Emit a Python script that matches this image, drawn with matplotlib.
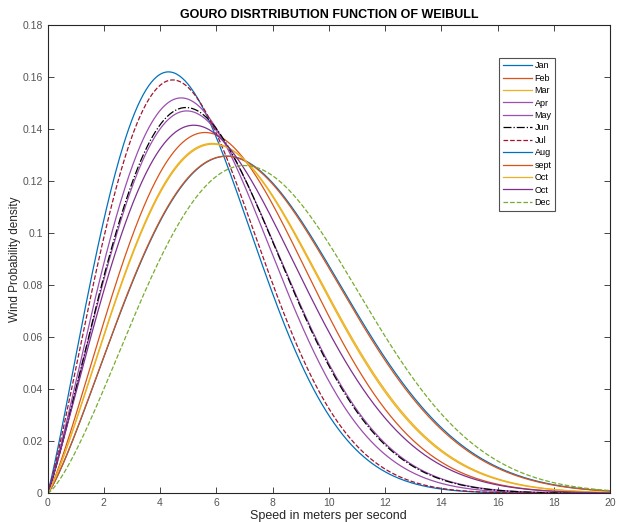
import numpy as np
import matplotlib.pyplot as plt

plt.rcParams['font.family'] = ['Liberation Sans', 'DejaVu Sans']

months = ["Jan", "Feb", "Mar", "Apr", "May", "Jun", "Jul", "Aug", "sept", "Oct", "Oct", "Dec"]
# Weibull-shaped curves: speed at the peak (m/s),
# peak density and shape factor k
mode_speed = [4.30, 5.60, 5.85, 4.75, 4.95, 4.92, 4.45, 6.38, 6.35, 5.88, 5.20, 7.00]
peak_density = [0.162, 0.1387, 0.1345, 0.152, 0.147, 0.1483, 0.1589, 0.1296, 0.1296, 0.1342, 0.1415, 0.126]
shape_k = [2.12, 2.20, 2.20, 2.15, 2.15, 2.15, 2.15, 2.22, 2.22, 2.20, 2.10, 2.35]

colors = ["#0072BD", "#D95319", "#EDB120", "#9B4FB0", "#9B4FB0", "#000000",
          "#A2142F", "#0072BD", "#D95319", "#EDB120", "#7E2F8E", "#77AC30"]
styles = ["-", "-", "-", "-", "-", "-.", "--", "-", "-", "-", "-", "--"]


def weibull_curve(v, m, peak, k):
    # Weibull density shape written around its mode m and peak height
    u = v / m
    return peak * u ** (k - 1) * np.exp(-(k - 1) / k * (u ** k - 1))


def main():
    v = np.linspace(0, 20, 401)
    fig = plt.figure(figsize=(6.17, 5.22), dpi=100)
    ax = fig.add_axes([0.077, 0.055, 0.912, 0.897])

    for i, name in enumerate(months):
        y = weibull_curve(v, mode_speed[i], peak_density[i], shape_k[i])
        ax.plot(v, y, color=colors[i], linestyle=styles[i], linewidth=0.9, label=name)

    ax.set_xlim(0, 20)
    ax.set_ylim(0, 0.18)
    ax.set_xticks(range(0, 21, 2))
    ax.set_yticks(np.arange(0, 0.181, 0.02))
    ax.set_yticklabels(["0", "0.02", "0.04", "0.06", "0.08", "0.1", "0.12", "0.14", "0.16", "0.18"])
    ax.tick_params(direction='in', top=True, right=True, labelsize=7.5, colors='#262626',
                   labelcolor='#555555', length=4, width=0.6)
    for s in ax.spines.values():
        s.set_color('#262626')
        s.set_linewidth(0.8)

    ax.set_xlabel('Speed in meters per second', fontsize=9, color='#262626', labelpad=1)
    ax.set_ylabel('Wind Probability density', fontsize=8.5, color='#262626', labelpad=1)
    ax.set_title('GOURO DISRTRIBUTION FUNCTION OF WEIBULL', fontsize=9, fontweight='bold', pad=5)

    leg = ax.legend(loc='upper left', bbox_to_anchor=(0.795, 0.94), fontsize=6.5,
                    frameon=True, fancybox=False, edgecolor='#262626', handlelength=3.2,
                    labelspacing=0.38, borderpad=0.4, handletextpad=0.3)
    leg.get_frame().set_linewidth(0.8)

    fig.savefig('out.png', dpi=100)


if __name__ == "__main__":
    main()
